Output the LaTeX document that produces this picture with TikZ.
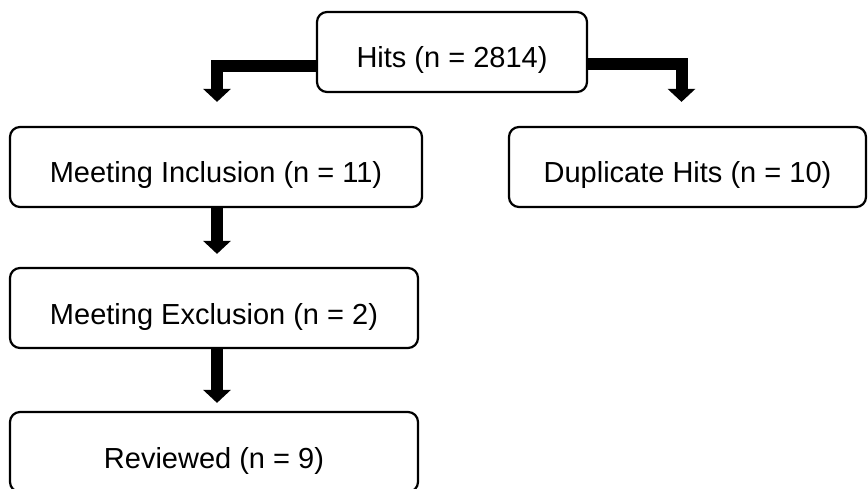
\documentclass[tikz,border=0pt]{standalone}
\usepackage{fontspec}
\setmainfont{Liberation Sans}
\usetikzlibrary{arrows.meta}
\begin{document}
\begin{tikzpicture}[x=1pt,y=-1pt,
  box/.style={draw=black, line width=2.2pt, rounded corners=10pt, fill=white,
    minimum height=80pt, inner sep=0pt, text height=32pt, text depth=0pt,
    font=\fontsize{29}{34}\selectfont},
  flow/.style={line width=12pt, line join=miter, draw=black,
    -{Triangle[width=27pt,length=13pt]}}]
\useasboundingbox (0,0) rectangle (868,489);
\node[box, minimum width=270pt] (hits) at (452,52) {Hits (n = 2814)};
\node[box, minimum width=412pt] (incl) at (216,167) {Meeting Inclusion (n = 11)};
\node[box, minimum width=357pt] (dup) at (687.5,167) {Duplicate Hits (n = 10)};
\node[box, minimum width=408pt] (excl) at (214,308) {Meeting Exclusion (n = 2)};
\node[box, minimum width=408pt] (rev) at (214,452) {Reviewed (n = 9)};
\draw[flow] ([yshift=-14pt]hits.west) -| ([xshift=1pt,yshift=24pt]incl.north);
\draw[flow] ([yshift=-12pt]hits.east) -| ([xshift=-6pt,yshift=24pt]dup.north);
\draw[flow] ([xshift=1pt]incl.south) -- ([xshift=3pt,yshift=13pt]excl.north);
\draw[flow] ([xshift=3pt]excl.south) -- ([xshift=3pt,yshift=8pt]rev.north);
\end{tikzpicture}
\end{document}
